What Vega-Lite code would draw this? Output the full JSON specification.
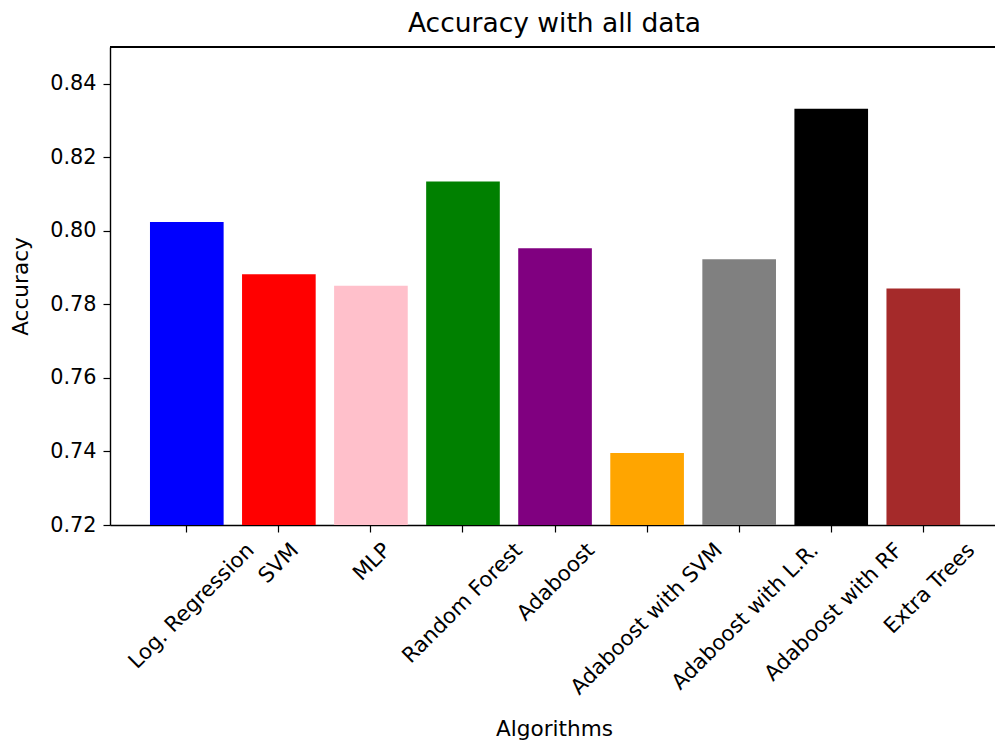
{
  "$schema": "https://vega.github.io/schema/vega-lite/v6.json",
  "width": 885,
  "height": 478,
  "autosize": {"type": "none"},
  "padding": {"left": 110, "top": 47, "right": 0, "bottom": 217},
  "background": "white",
  "config": {
    "font": "DejaVu Sans",
    "view": {"stroke": null},
    "axis": {"grid": false}
  },
  "title": {
    "text": "Accuracy with all data",
    "fontSize": 26.5,
    "font": "DejaVu Sans",
    "fontWeight": "normal",
    "color": "black",
    "anchor": "middle",
    "frame": "group",
    "baseline": "alphabetic",
    "offset": 14,
    "dx": 2,
    "dy": 26
  },
  "data": {
    "values": [
      {"algorithm": "Log. Regression", "accuracy": 0.8024},
      {"algorithm": "SVM", "accuracy": 0.7882},
      {"algorithm": "MLP", "accuracy": 0.7851},
      {"algorithm": "Random Forest", "accuracy": 0.8134},
      {"algorithm": "Adaboost", "accuracy": 0.7953},
      {"algorithm": "Adaboost with SVM", "accuracy": 0.7396},
      {"algorithm": "Adaboost with L.R.", "accuracy": 0.7923},
      {"algorithm": "Adaboost with RF", "accuracy": 0.8332},
      {"algorithm": "Extra Trees", "accuracy": 0.7843}
    ]
  },
  "layer": [
    {
      "mark": {"type": "bar"},
      "encoding": {
        "x": {
          "field": "algorithm",
          "type": "nominal",
          "sort": null,
          "scale": {"paddingInner": 0.2, "paddingOuter": 0.4066, "align": 0.534},
          "axis": {
            "title": "Algorithms",
            "titleFontSize": 21.6,
            "titleFontWeight": "normal",
            "titleColor": "black",
            "titleBaseline": "alphabetic",
            "titleAlign": "center",
            "titleY": 210.7,
            "titleX": 444,
            "labelAngle": -45,
            "labelAlign": "right",
            "labelBaseline": "top",
            "labelFontSize": 21.2,
            "labelColor": "black",
            "labelPadding": 7,
            "labelLimit": 0,
            "labelOverlap": false,
            "labelFlush": false,
            "labelBound": false,
            "labelOffset": {"expr": "3.96*length(datum.label)-3"},
            "tickSize": 7,
            "tickWidth": 1.2,
            "tickColor": "black",
            "domainColor": "black",
            "domainWidth": 1.4
          }
        },
        "y": {
          "field": "accuracy",
          "type": "quantitative",
          "scale": {"domain": [0.72, 0.85], "nice": false, "zero": false},
          "axis": {
            "title": "Accuracy",
            "titleFontSize": 21.6,
            "titleFontWeight": "normal",
            "titleColor": "black",
            "titleAngle": 270,
            "titleAlign": "center",
            "titleBaseline": "alphabetic",
            "titleX": -83,
            "titleY": 239,
            "values": [0.72, 0.74, 0.76, 0.78, 0.8, 0.82, 0.84],
            "format": ".2f",
            "labelFontSize": 20.8,
            "labelColor": "black",
            "labelPadding": 7,
            "tickSize": 7,
            "tickWidth": 1.2,
            "tickColor": "black",
            "domainColor": "black",
            "domainWidth": 1.4
          }
        },
        "y2": {"datum": 0.72},
        "color": {
          "field": "algorithm",
          "type": "nominal",
          "legend": null,
          "scale": {
            "domain": ["Log. Regression", "SVM", "MLP", "Random Forest", "Adaboost", "Adaboost with SVM", "Adaboost with L.R.", "Adaboost with RF", "Extra Trees"],
            "range": ["#0000ff", "#ff0000", "#ffc0cb", "#008000", "#800080", "#ffa500", "#808080", "#000000", "#a52a2a"]
          }
        }
      }
    },
    {
      "mark": {"type": "rule", "color": "black", "strokeWidth": 1.4},
      "encoding": {"y": {"datum": 0.85}}
    }
  ]
}
